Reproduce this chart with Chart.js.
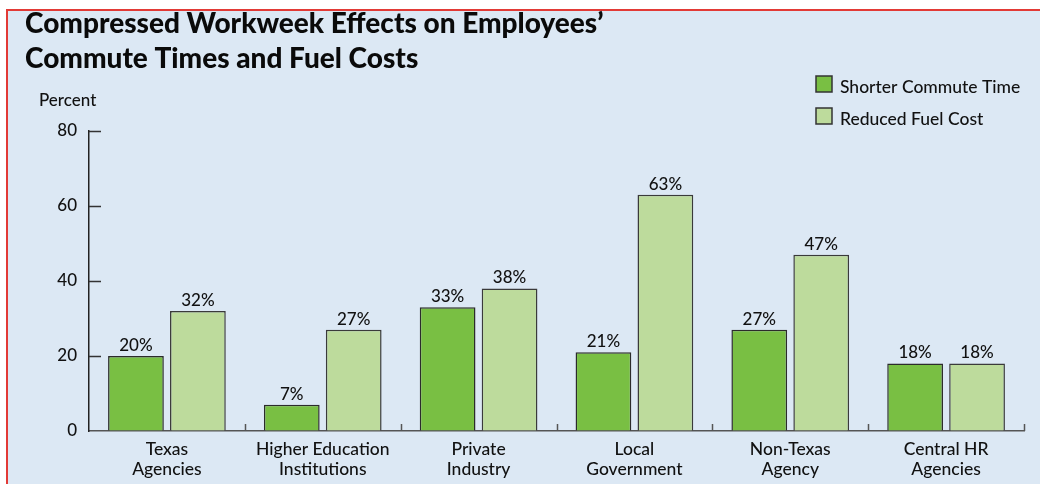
<!DOCTYPE html>
<html>
<head>
<meta charset="utf-8">
<script src="https://cdn.jsdelivr.net/npm/chart.js@4"></script>
<style>
  html, body { margin: 0; padding: 0; background: #fff; }
  #wrap { position: relative; width: 1040px; height: 484px; overflow: hidden; }
  /* light blue panel with the thin red rule on top and left */
  #panel {
    position: absolute; left: 6px; top: 9px; right: 0; bottom: 0;
    background: #dce8f4;
    border-left: 2px solid #e23a36;
    border-top: 2px solid #e23a36;
  }
  #chart { position: absolute; left: 0; top: 0; }
</style>
</head>
<body>
<div id="wrap">
  <div id="panel"></div>
  <canvas id="chart" width="1040" height="484"></canvas>
</div>
<script>
'use strict';

const titleLines = ['Compressed Workweek Effects on Employees’', 'Commute Times and Fuel Costs'];
const categories = [
  ['Texas', 'Agencies'],
  ['Higher Education', 'Institutions'],
  ['Private', 'Industry'],
  ['Local', 'Government'],
  ['Non-Texas', 'Agency'],
  ['Central HR', 'Agencies']
];
const seriesNames = ['Shorter Commute Time', 'Reduced Fuel Cost'];
const shorterCommute = [20, 7, 33, 21, 27, 18];
const reducedFuel = [32, 27, 38, 63, 47, 18];
const yTicks = [0, 20, 40, 60, 80];
const yLabel = 'Percent';

const FONT = 'Lato, "Open Sans", sans-serif';
const INK = '#111';

// short inward ticks on the axes, the "Percent" label, value labels and the stacked legend
const decorations = {
  id: 'decorations',
  afterDatasetsDraw(chart) {
    const ctx = chart.ctx;
    ctx.save();
    ctx.font = '500 17px ' + FONT;
    ctx.fillStyle = INK;
    ctx.textAlign = 'center';
    ctx.textBaseline = 'bottom';
    chart.data.datasets.forEach((ds, i) => {
      chart.getDatasetMeta(i).data.forEach((bar, j) => {
        ctx.fillText(ds.data[j] + '%', bar.x, bar.y - 2);
      });
    });
    ctx.restore();
  },
  afterDraw(chart) {
    const ctx = chart.ctx;
    const area = chart.chartArea;
    const x = chart.scales.x, y = chart.scales.y;
    ctx.save();
    ctx.strokeStyle = '#333';
    ctx.lineWidth = 1.5;
    // y ticks point into the plot
    yTicks.forEach(v => {
      if (v === 0) return;
      const py = Math.round(y.getPixelForValue(v)) + 0.5;
      ctx.beginPath();
      ctx.moveTo(area.left, py);
      ctx.lineTo(area.left + 12, py);
      ctx.stroke();
    });
    // x ticks between the groups and at the right end
    ctx.strokeStyle = '#555';
    for (let i = 1; i <= categories.length; i++) {
      const px = i < categories.length
        ? (x.getPixelForTick(i - 1) + x.getPixelForTick(i)) / 2
        : area.right;
      ctx.beginPath();
      ctx.moveTo(Math.round(px) + 0.5, area.bottom);
      ctx.lineTo(Math.round(px) + 0.5, area.bottom - 7);
      ctx.stroke();
    }

    ctx.fillStyle = INK;
    ctx.font = '500 17px ' + FONT;
    ctx.textAlign = 'left';
    ctx.textBaseline = 'middle';
    ctx.fillText(yLabel, area.left - 50, area.top - 30);

    // legend, one entry per row
    ctx.font = '500 17.5px ' + FONT;
    chart.data.datasets.forEach((ds, i) => {
      const ly = 84 + i * 32;
      ctx.fillStyle = ds.backgroundColor;
      ctx.fillRect(816, ly - 8, 16, 16);
      ctx.strokeStyle = '#333';
      ctx.lineWidth = 1.5;
      ctx.strokeRect(816, ly - 8, 16, 16);
      ctx.fillStyle = INK;
      ctx.fillText(ds.label, 840, ly + 3);
    });
    ctx.restore();
  }
};

const ctxChart = document.getElementById('chart');
const chart = new Chart(ctxChart, {
  type: 'bar',
  data: {
    labels: categories,
    datasets: [{
      label: seriesNames[0],
      data: shorterCommute,
      backgroundColor: '#79bf43',
      borderColor: '#2b2b2b',
      borderWidth: 1.5
    }, {
      label: seriesNames[1],
      data: reducedFuel,
      backgroundColor: '#bddb9c',
      borderColor: '#3a3a3a',
      borderWidth: 1.5
    }]
  },
  options: {
    responsive: false,
    animation: false,
    layout: { padding: { left: 25, right: 16, top: 6, bottom: 0 } },
    datasets: {
      bar: { categoryPercentage: 0.795, barPercentage: 0.9 }
    },
    plugins: {
      legend: { display: false },
      tooltip: { enabled: false },
      title: {
        display: true,
        text: titleLines,
        align: 'start',
        color: '#0a0a0a',
        font: { family: FONT, size: 28, weight: 900, lineHeight: 35 / 28 },
        padding: { top: 0, bottom: 55 }
      }
    },
    scales: {
      x: {
        offset: true,
        grid: { drawOnChartArea: false, drawTicks: false },
        border: { color: '#555', width: 1.5 },
        ticks: {
          color: INK,
          font: { family: FONT, size: 17.5, weight: 500, lineHeight: 20 / 17.5 },
          padding: 8,
          maxRotation: 0,
          autoSkip: false
        },
        afterFit(scale) { scale.height = 53; }
      },
      y: {
        min: 0,
        max: 80,
        grid: { drawOnChartArea: false, drawTicks: false },
        border: { color: '#222', width: 1.5 },
        ticks: {
          stepSize: 20,
          color: INK,
          font: { family: FONT, size: 17, weight: 500 },
          padding: 12
        },
        afterFit(scale) { scale.width = 64; }
      }
    }
  },
  plugins: [decorations]
});
</script>
</body>
</html>
